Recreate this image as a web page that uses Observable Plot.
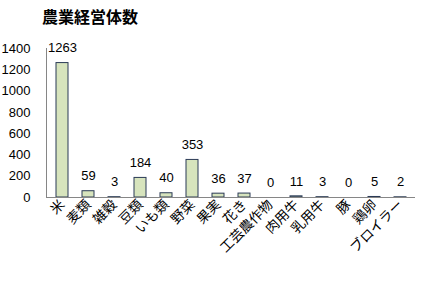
<!DOCTYPE html>
<html><head><meta charset="utf-8">
<script src="https://cdn.jsdelivr.net/npm/d3@7"></script>
<script src="https://cdn.jsdelivr.net/npm/@observablehq/plot@0.6"></script>
<style>
body{margin:0;background:#fff;font-family:"Noto Sans CJK JP",sans-serif;}
#title{height:30px;box-sizing:border-box;padding:7px 0 0 42px;font-size:16px;font-weight:bold;line-height:18px;color:#000;}
</style></head><body>
<div id="title">農業経営体数</div>
<div id="chart"></div>
<script>
const categories = ["米","麦類","雑穀","豆類","いも類","野菜","果実","花き","工芸農作物","肉用牛","乳用牛","豚","鶏卵","ブロイラー"];
const values = [1263,59,3,184,40,353,36,37,0,11,3,0,5,2];
const yTicks = [0,200,400,600,800,1000,1200,1400];
const data = categories.map((c,i)=>({cat:c,val:values[i]}));
const chart = Plot.plot({
  width:421, height:251,
  marginTop:18, marginBottom:84, marginLeft:46, marginRight:6,
  style:{fontFamily:"'Liberation Sans','Noto Sans CJK JP',sans-serif",fontSize:"13px",color:"#000"},
  x:{domain:categories, paddingInner:0.54, paddingOuter:0.3, align:0.5, label:null},
  y:{domain:[0,1400], label:null},
  marks:[
    Plot.axisX({tickSize:0, tickRotate:-45, tickPadding:1, dx:0, dy:4, fontSize:13.5, fontFamily:"'Noto Sans CJK JP',sans-serif", label:null}),
    Plot.axisY({ticks:yTicks, tickFormat:"d", tickSize:0, tickPadding:16, fontSize:13, label:null}),
    Plot.barY(data,{x:"cat",y:"val",fill:"#d7e4bd",stroke:"#2a3a56",strokeWidth:1}),
    Plot.ruleY([0],{stroke:"#868686"}),
    Plot.frame({anchor:"left", stroke:"#868686"}),
    Plot.text(data,{x:"cat",y:"val",text:d=>String(d.val),dy:-15,fontSize:13,fill:"#000"})
  ]
});
document.getElementById("chart").appendChild(chart);
</script></body></html>
